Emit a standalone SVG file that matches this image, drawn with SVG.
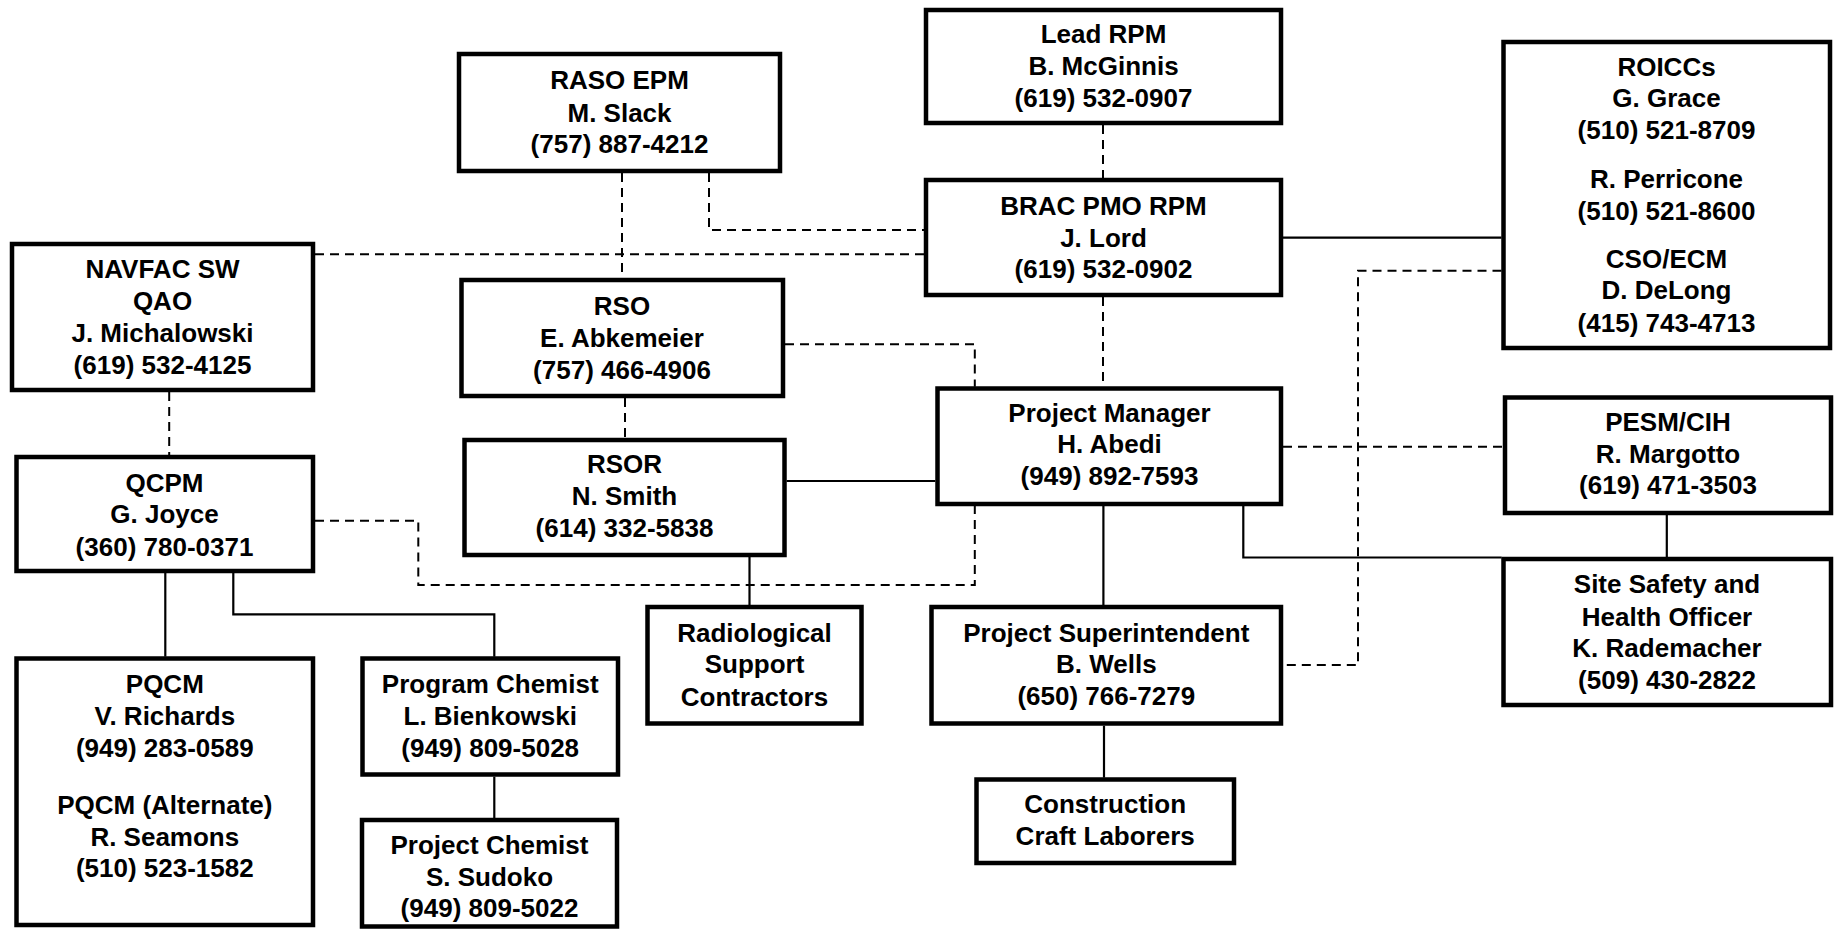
<svg xmlns="http://www.w3.org/2000/svg" width="1844" height="931" viewBox="0 0 1844 931">
<style>
.box{fill:#fff;stroke:#000;stroke-width:4.5}
.t{font-family:"Liberation Sans",Arial,sans-serif;font-weight:bold;font-size:26px;text-anchor:middle;fill:#000}
.s{fill:none;stroke:#000;stroke-width:2.2}
.d{fill:none;stroke:#000;stroke-width:2;stroke-dasharray:9 6}
</style>
<rect width="1844" height="931" fill="#fff"/>
<g id="connectors">
<path class="s" d="M1283 237.7H1501.5"/>
<path class="s" d="M786.6 481H935.3"/>
<path class="s" d="M749.5 557V605"/>
<path class="s" d="M1103.4 506V605"/>
<path class="s" d="M1104 725.7V777.7"/>
<path class="s" d="M1243.3 506V557.5H1501.5"/>
<path class="s" d="M1666.8 515V557"/>
<path class="s" d="M165.3 573V656.7"/>
<path class="s" d="M233.3 573V614.3H494.3V656.7"/>
<path class="s" d="M494.3 776.7V818.3"/>
<path class="d" d="M1103 125V178"/>
<path class="d" d="M1103 297V386.7"/>
<path class="d" d="M622 173V278"/>
<path class="d" d="M709 173V230H924"/>
<path class="d" d="M315 254.3H924"/>
<path class="d" d="M169.2 392V455"/>
<path class="d" d="M625 398V438"/>
<path class="d" d="M785 344.3H974.8V386.7"/>
<path class="d" d="M315 520.7H418.3V585H974.8V506"/>
<path class="d" d="M1283 446.7H1503"/>
<path class="d" d="M1501.5 270.7H1358V665H1283.3"/>
</g>
<g id="raso-epm"><rect class="box" x="459" y="54" width="321" height="117"/>
<text class="t"><tspan x="619.5" y="89.3">RASO EPM</tspan><tspan x="619.5" y="121.7">M. Slack</tspan><tspan x="619.5" y="153.3">(757) 887-4212</tspan></text></g>
<g id="lead-rpm"><rect class="box" x="926" y="10" width="355" height="113"/>
<text class="t"><tspan x="1103.5" y="43.3">Lead RPM</tspan><tspan x="1103.5" y="75">B. McGinnis</tspan><tspan x="1103.5" y="107.3">(619) 532-0907</tspan></text></g>
<g id="brac-pmo-rpm"><rect class="box" x="926" y="180" width="355" height="115"/>
<text class="t"><tspan x="1103.5" y="215">BRAC PMO RPM</tspan><tspan x="1103.5" y="246.7">J. Lord</tspan><tspan x="1103.5" y="278.3">(619) 532-0902</tspan></text></g>
<g id="roiccs"><rect class="box" x="1503.5" y="42" width="326.5" height="306"/>
<text class="t"><tspan x="1666.5" y="76">ROICCs</tspan><tspan x="1666.5" y="107.3">G. Grace</tspan><tspan x="1666.5" y="139.3">(510) 521-8709</tspan><tspan x="1666.5" y="188.3">R. Perricone</tspan><tspan x="1666.5" y="220">(510) 521-8600</tspan><tspan x="1666.5" y="268.3">CSO/ECM</tspan><tspan x="1666.5" y="299.3">D. DeLong</tspan><tspan x="1666.5" y="331.7">(415) 743-4713</tspan></text></g>
<g id="navfac-sw-qao"><rect class="box" x="12" y="244" width="301" height="146"/>
<text class="t"><tspan x="162.5" y="278.3">NAVFAC SW</tspan><tspan x="162.5" y="310">QAO</tspan><tspan x="162.5" y="342.3">J. Michalowski</tspan><tspan x="162.5" y="374">(619) 532-4125</tspan></text></g>
<g id="rso"><rect class="box" x="461.5" y="280" width="321.5" height="116"/>
<text class="t"><tspan x="622" y="315">RSO</tspan><tspan x="622" y="346.7">E. Abkemeier</tspan><tspan x="622" y="379.3">(757) 466-4906</tspan></text></g>
<g id="rsor"><rect class="box" x="464.5" y="440" width="320" height="115"/>
<text class="t"><tspan x="624.5" y="473.3">RSOR</tspan><tspan x="624.5" y="505">N. Smith</tspan><tspan x="624.5" y="537.3">(614) 332-5838</tspan></text></g>
<g id="project-manager"><rect class="box" x="937.5" y="388.5" width="343.5" height="115.5"/>
<text class="t"><tspan x="1109.5" y="421.7">Project Manager</tspan><tspan x="1109.5" y="453.3">H. Abedi</tspan><tspan x="1109.5" y="485">(949) 892-7593</tspan></text></g>
<g id="pesm-cih"><rect class="box" x="1505" y="397.5" width="326" height="115.5"/>
<text class="t"><tspan x="1668" y="430.7">PESM/CIH</tspan><tspan x="1668" y="463.3">R. Margotto</tspan><tspan x="1668" y="494">(619) 471-3503</tspan></text></g>
<g id="qcpm"><rect class="box" x="16.5" y="457" width="296.5" height="114"/>
<text class="t"><tspan x="164.5" y="491.7">QCPM</tspan><tspan x="164.5" y="523.3">G. Joyce</tspan><tspan x="164.5" y="556">(360) 780-0371</tspan></text></g>
<g id="site-safety"><rect class="box" x="1503.5" y="559" width="327.5" height="146"/>
<text class="t"><tspan x="1667" y="593.3">Site Safety and</tspan><tspan x="1667" y="625.7">Health Officer</tspan><tspan x="1667" y="657.3">K. Rademacher</tspan><tspan x="1667" y="689.3">(509) 430-2822</tspan></text></g>
<g id="radiological"><rect class="box" x="647.5" y="607" width="214" height="116.5"/>
<text class="t"><tspan x="754.5" y="641.7">Radiological</tspan><tspan x="754.5" y="673.3">Support</tspan><tspan x="754.5" y="706">Contractors</tspan></text></g>
<g id="project-superintendent"><rect class="box" x="931.5" y="607" width="349.5" height="116.5"/>
<text class="t"><tspan x="1106.3" y="641.7">Project Superintendent</tspan><tspan x="1106.3" y="673.3">B. Wells</tspan><tspan x="1106.3" y="705.3">(650) 766-7279</tspan></text></g>
<g id="construction"><rect class="box" x="976.5" y="779.5" width="257.5" height="83.5"/>
<text class="t"><tspan x="1105.2" y="813.3">Construction</tspan><tspan x="1105.2" y="845">Craft Laborers</tspan></text></g>
<g id="pqcm"><rect class="box" x="16.5" y="658.5" width="296.5" height="266.5"/>
<text class="t"><tspan x="164.8" y="693.3">PQCM</tspan><tspan x="164.8" y="725">V. Richards</tspan><tspan x="164.8" y="756.7">(949) 283-0589</tspan><tspan x="164.8" y="814">PQCM (Alternate)</tspan><tspan x="164.8" y="846">R. Seamons</tspan><tspan x="164.8" y="877.3">(510) 523-1582</tspan></text></g>
<g id="program-chemist"><rect class="box" x="362.5" y="658.5" width="255.5" height="116"/>
<text class="t"><tspan x="490.2" y="693.3">Program Chemist</tspan><tspan x="490.2" y="725">L. Bienkowski</tspan><tspan x="490.2" y="756.7">(949) 809-5028</tspan></text></g>
<g id="project-chemist"><rect class="box" x="362" y="820" width="255" height="106.5"/>
<text class="t"><tspan x="489.5" y="854">Project Chemist</tspan><tspan x="489.5" y="886">S. Sudoko</tspan><tspan x="489.5" y="917.3">(949) 809-5022</tspan></text></g>
</svg>
